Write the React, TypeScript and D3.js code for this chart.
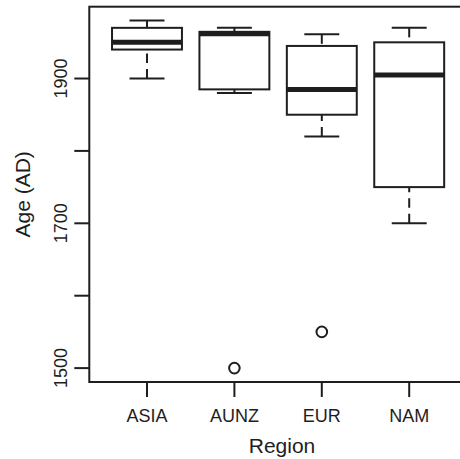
import React from "react";
import * as d3 from "d3";

const categories = ["ASIA", "AUNZ", "EUR", "NAM"];
const lowerWhisker = [1900, 1880, 1820, 1700];
const q1 = [1940, 1885, 1850, 1750];
const median = [1950, 1962, 1885, 1905];
const q3 = [1970, 1964.5, 1945, 1950];
const upperWhisker = [1980, 1970, 1961, 1970];
const outlierRegion = ["AUNZ", "EUR"];
const outlierValue = [1500, 1550];
const yTicks = [1500, 1600, 1700, 1800, 1900];
const yLabeled = [1500, 1700, 1900];

const W = 460;
const H = 459;
const FONT = "'Liberation Sans', Arial, Helvetica, sans-serif";
const INK = "#1e1e1e";

export default function App() {
  const x = d3.scaleLinear().domain([0.34, 4.66]).range([89.3, 466.9]);
  const y = d3.scaleLinear().domain([1480.8, 1999.2]).range([382, 6.7]);
  const pos = (c: string) => categories.indexOf(c) + 1;
  const boxHalf = (x(1.4) - x(0.6)) / 2;
  const capHalf = boxHalf / 2;
  const left = x.range()[0];
  const right = x.range()[1];
  const top = y.range()[1];
  const bottom = y.range()[0];

  return (
    <svg
      width={W}
      height={H}
      style={{ position: "absolute", left: 0, top: 0, background: "#fff" }}
      fontFamily={FONT}
    >
      <rect x={0} y={0} width={W} height={H} fill="#fff" />
      {categories.map((c, i) => {
        const cx = x(i + 1);
        return (
          <g key={c} stroke={INK} fill="none">
            <line x1={cx} x2={cx} y1={y(lowerWhisker[i])} y2={y(q1[i])} strokeWidth={2} strokeDasharray="9.5,6" />
            <line x1={cx} x2={cx} y1={y(upperWhisker[i])} y2={y(q3[i])} strokeWidth={2} strokeDasharray="9.5,6" />
            <line x1={cx - capHalf} x2={cx + capHalf} y1={y(lowerWhisker[i])} y2={y(lowerWhisker[i])} strokeWidth={2} />
            <line x1={cx - capHalf} x2={cx + capHalf} y1={y(upperWhisker[i])} y2={y(upperWhisker[i])} strokeWidth={2} />
            <rect
              x={cx - boxHalf}
              y={y(q3[i])}
              width={boxHalf * 2}
              height={y(q1[i]) - y(q3[i])}
              fill="#fff"
              strokeWidth={2}
            />
            <line x1={cx - boxHalf} x2={cx + boxHalf} y1={y(median[i])} y2={y(median[i])} strokeWidth={5} />
          </g>
        );
      })}
      {outlierRegion.map((c, i) => (
        <circle key={c} cx={x(pos(c))} cy={y(outlierValue[i])} r={5.3} fill="none" stroke={INK} strokeWidth={2} />
      ))}
      {/* frame */}
      <rect x={left} y={top} width={right - left} height={bottom - top} fill="none" stroke={INK} strokeWidth={2} />
      {/* y axis */}
      {yTicks.map((t) => (
        <line key={t} x1={left - 15} x2={left} y1={y(t)} y2={y(t)} stroke={INK} strokeWidth={2} />
      ))}
      {yLabeled.map((t) => (
        <text
          key={t}
          transform={`translate(67,${y(t)}) rotate(-90)`}
          textAnchor="middle"
          fontSize={18}
          fill={INK}
        >
          {t}
        </text>
      ))}
      {/* x axis */}
      {categories.map((c, i) => (
        <g key={c}>
          <line x1={x(i + 1)} x2={x(i + 1)} y1={bottom} y2={bottom + 15} stroke={INK} strokeWidth={2} />
          <text x={x(i + 1)} y={422.3} textAnchor="middle" fontSize={18} fill={INK}>
            {c}
          </text>
        </g>
      ))}
      <text x={282} y={453} textAnchor="middle" fontSize={21} fill={INK}>
        Region
      </text>
      <text
        transform={`translate(30,${(top + bottom) / 2}) rotate(-90)`}
        textAnchor="middle"
        fontSize={21}
        fill={INK}
      >
        Age (AD)
      </text>
    </svg>
  );
}
